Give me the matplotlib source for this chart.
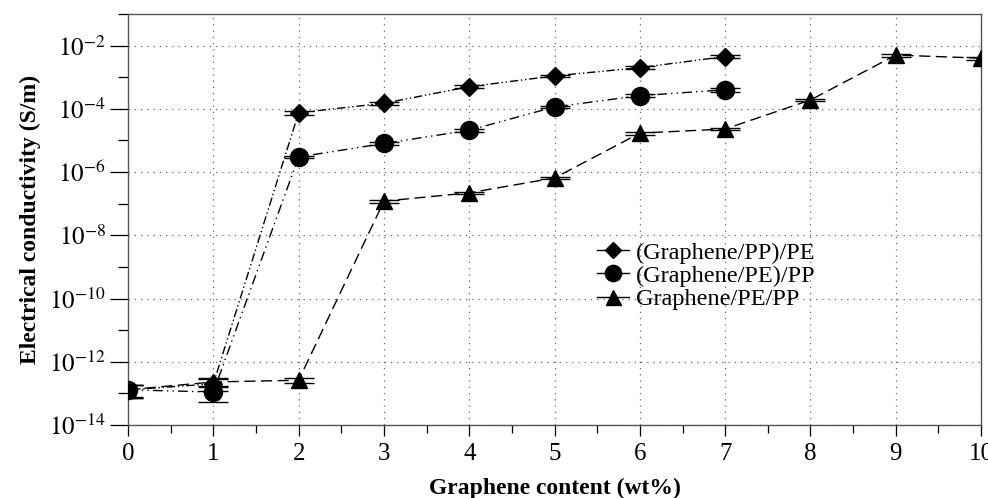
import numpy as np
import matplotlib
matplotlib.use("Agg")
import matplotlib.pyplot as plt
from matplotlib.ticker import FixedLocator, MultipleLocator

plt.rcParams["font.family"] = ["Liberation Serif", "DejaVu Serif"]
plt.rcParams["mathtext.fontset"] = "stix"

# Graphene content (wt%)
x_pp_pe = [0, 1, 2, 3, 4, 5, 6, 7]
x_pe_pp = [0, 1, 2, 3, 4, 5, 6, 7]
x_blend = [0, 1, 2, 3, 4, 5, 6, 7, 8, 9, 10]

# Electrical conductivity (S/m)
y_pp_pe = [1.3e-13, 2.0e-13, 7.5e-5, 1.5e-4, 5.0e-4, 1.1e-3, 2.0e-3, 4.5e-3]
y_pe_pp = [1.3e-13, 1.1e-13, 3.0e-6, 8.0e-6, 2.1e-5, 1.15e-4, 2.6e-4, 4.0e-4]
y_blend = [1.3e-13, 2.3e-13, 2.6e-13, 1.2e-7, 2.2e-7, 6.5e-7, 1.7e-5, 2.3e-5, 1.9e-4, 5.0e-3, 4.0e-3]

# relative error (fraction of value)
err_pp_pe = [0.45, 0.4, 0.12, 0.1, 0.1, 0.1, 0.1, 0.12]
err_pe_pp = [0.45, 0.5, 0.1, 0.1, 0.1, 0.1, 0.1, 0.12]
err_blend = [0.4, 0.3, 0.2, 0.1, 0.1, 0.1, 0.1, 0.1, 0.1, 0.1, 0.1]

labels = ["(Graphene/PP)/PE", "(Graphene/PE)/PP", "Graphene/PE/PP"]

fig = plt.figure(figsize=(9.88, 4.98), dpi=100)
ax = fig.add_axes([0.1296, 0.1466, 0.8634, 0.8254])

series = [
    (x_pp_pe, y_pp_pe, err_pp_pe, "D", 9, (0, (6, 2, 1, 2, 1, 2)), labels[0]),
    (x_pe_pp, y_pe_pp, err_pe_pp, "o", 13, (0, (7, 3, 1, 3, 1, 3)), labels[1]),
    (x_blend, y_blend, err_blend, "^", 12, (0, (8, 4)), labels[2]),
]

handles = []
for xs, ys, er, mk, ms, ls, lab in series:
    ys = np.array(ys)
    yerr = ys * np.array(er)
    ax.errorbar(xs, ys, yerr=yerr, fmt="none", ecolor="black", elinewidth=1.0,
                capsize=11, capthick=1.0, zorder=3)
    ax.plot(xs, ys, color="black", linestyle=ls, linewidth=1.0, zorder=2)
    ax.plot(xs, ys, linestyle="none", marker=mk, markersize=ms, color="black", zorder=4)
    h, = ax.plot([], [], color="black", marker=mk, markersize=ms * 0.9,
                 linestyle="-", linewidth=1.0, label=lab)
    handles.append(h)

ax.set_yscale("log")
ax.set_xlim(0, 10)
ax.set_ylim(1e-14, 1e-1)

ax.yaxis.set_major_locator(FixedLocator([10.0 ** k for k in range(-14, -1, 2)]))
ax.yaxis.set_minor_locator(FixedLocator([10.0 ** k for k in range(-13, 0, 2)]))
ax.yaxis.set_minor_formatter(plt.NullFormatter())
ax.set_yticklabels([r"$10^{%d}$" % k for k in range(-14, -1, 2)])
ax.xaxis.set_major_locator(MultipleLocator(1))
ax.xaxis.set_minor_locator(MultipleLocator(0.5))

ax.tick_params(axis="both", which="major", direction="out", width=0.9, labelsize=18)
ax.tick_params(axis="y", which="major", length=13, pad=3)
ax.tick_params(axis="y", which="minor", direction="out", length=7, width=0.9)
ax.tick_params(axis="x", which="major", length=8, pad=5)
ax.tick_params(axis="x", which="minor", direction="out", length=6, width=0.9)

ax.grid(True, which="major", linestyle=(0, (1, 4)), color="#666666", linewidth=0.9)
for s in ax.spines.values():
    s.set_color("#555555")
    s.set_linewidth(1.0)

ax.set_xlabel("Graphene content (wt%)", fontsize=17, fontweight="bold", labelpad=9)
ax.set_ylabel("Electrical conductivity (S/m)", fontsize=17, fontweight="bold", labelpad=6)

ax.legend(handles=handles, loc="center left", bbox_to_anchor=(0.53, 0.363),
          frameon=False, fontsize=17.5, handlelength=1.3, handletextpad=0.3,
          labelspacing=0.05, borderpad=0.2)

fig.savefig("out.png", dpi=100)
